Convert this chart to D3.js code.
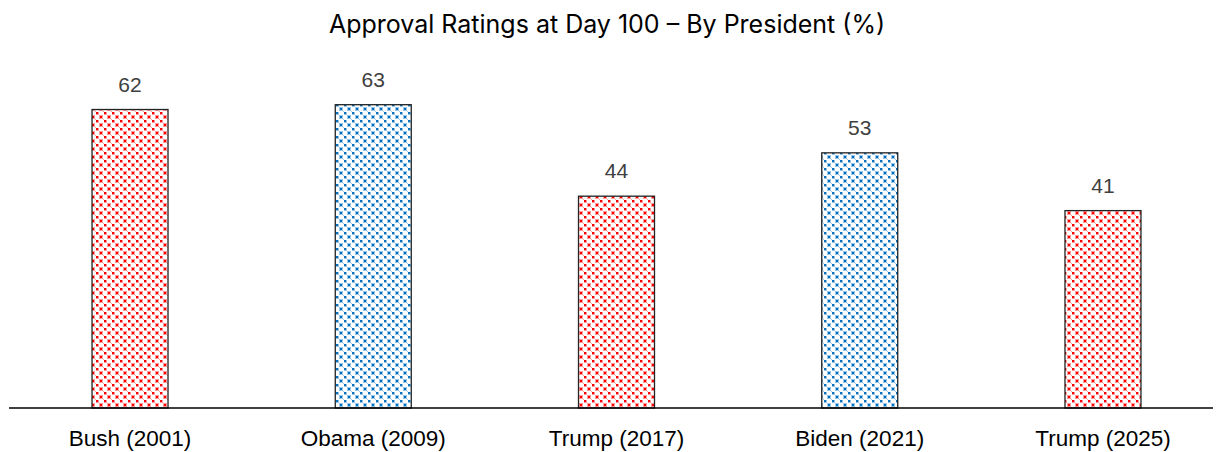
<!DOCTYPE html>
<html>
<head>
<meta charset="utf-8">
<script src="https://cdn.jsdelivr.net/npm/d3@7.9.0/dist/d3.min.js"></script>
<style>
  body { margin: 0; background: #fff; }
  svg { display: block; }
</style>
</head>
<body>
<svg id="chart" width="1223" height="452"></svg>
<script>
// chart data
const presidents = ['Bush (2001)', 'Obama (2009)', 'Trump (2017)', 'Biden (2021)', 'Trump (2025)'];
const approval = [62, 63, 44, 53, 41];
const party = ['R', 'D', 'R', 'D', 'R'];

const partyColors = { R: '#ff0000', D: '#0070c0' };

const svg = d3.select('#chart');
const W = 1223, H = 452;
const baseY = 408, topY = 71;

// patterned fills (small dotted lattice like the Excel pattern fill)
const defs = svg.append('defs');
Object.entries(partyColors).forEach(([k, c]) => {
  const p = defs.append('pattern')
    .attr('id', 'pat-' + k)
    .attr('width', 8).attr('height', 8)
    .attr('patternUnits', 'userSpaceOnUse');
  p.append('rect').attr('width', 8).attr('height', 8).attr('fill', '#fff');
  // light halo
  [[0, 0], [4, 4]].forEach(([x, y]) => {
    p.append('rect').attr('x', x - 1).attr('y', y - 1).attr('width', 4).attr('height', 4)
      .attr('fill', c).attr('opacity', 0.4);
  });
  p.append('rect').attr('x', 7).attr('y', 7).attr('width', 2).attr('height', 2).attr('fill', c).attr('opacity', 0.4);
  // solid dots
  [[0, 0], [4, 4]].forEach(([x, y]) => {
    p.append('rect').attr('x', x).attr('y', y).attr('width', 2).attr('height', 2).attr('fill', c);
  });
});

const x = d3.scaleBand()
  .domain(presidents)
  .range([8.4, 1224.6])
  .paddingInner(0.6876)
  .paddingOuter(0.3438);

const y = d3.scaleLinear()
  .domain([0, 70])
  .range([baseY, topY]);

// title
svg.append('text')
  .attr('x', 607).attr('y', 33)
  .attr('text-anchor', 'middle')
  .attr('font-family', 'Inter, "Open Sans", sans-serif')
  .attr('font-size', 25)
  .attr('fill', '#000')
  .text('Approval Ratings at Day 100 – By President (%)');

// bars
svg.selectAll('rect.bar')
  .data(presidents)
  .join('rect')
  .attr('class', 'bar')
  .attr('x', d => x(d))
  .attr('width', x.bandwidth())
  .attr('y', (d, i) => y(approval[i]))
  .attr('height', (d, i) => y(0) - y(approval[i]))
  .attr('fill', (d, i) => `url(#pat-${party[i]})`)
  .attr('stroke', '#222')
  .attr('stroke-width', 1.3);

// value labels
svg.selectAll('text.val')
  .data(presidents)
  .join('text')
  .attr('class', 'val')
  .attr('x', d => x(d) + x.bandwidth() / 2)
  .attr('y', (d, i) => y(approval[i]) - 18)
  .attr('text-anchor', 'middle')
  .attr('font-family', '"Liberation Sans", Arial, sans-serif')
  .attr('font-size', 21)
  .attr('fill', '#404040')
  .text((d, i) => approval[i]);

// x axis
const xAxis = svg.append('g')
  .attr('transform', `translate(0,${y(0)})`)
  .call(d3.axisBottom(x).tickSize(0).tickPadding(22));
xAxis.select('.domain').attr('stroke', '#000').attr('stroke-width', 1.5)
  .attr('d', 'M9,0H1213');
xAxis.selectAll('text')
  .attr('font-family', '"Liberation Sans", Arial, sans-serif')
  .attr('font-size', 22.5)
  .attr('fill', '#000');
</script>
</body>
</html>
